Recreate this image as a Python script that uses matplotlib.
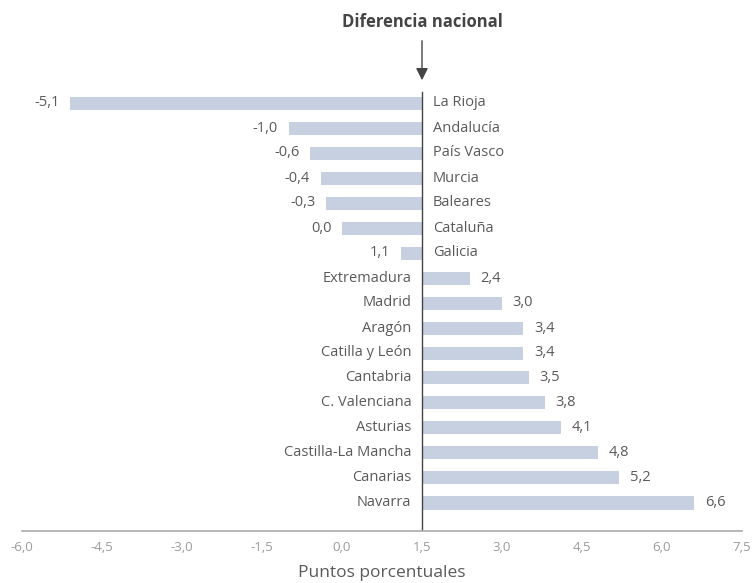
import matplotlib.pyplot as plt

regions = ["La Rioja", "Andalucía", "País Vasco", "Murcia", "Baleares", "Cataluña", "Galicia",
           "Extremadura", "Madrid", "Aragón", "Catilla y León", "Cantabria", "C. Valenciana",
           "Asturias", "Castilla-La Mancha", "Canarias", "Navarra"]
values = [-5.1, -1.0, -0.6, -0.4, -0.3, 0.0, 1.1, 2.4, 3.0, 3.4, 3.4, 3.5, 3.8, 4.1, 4.8, 5.2, 6.6]
national = 1.5
xticks = [-6.0, -4.5, -3.0, -1.5, 0.0, 1.5, 3.0, 4.5, 6.0, 7.5]

plt.rcParams['font.family'] = ['Open Sans', 'DejaVu Sans']

fig = plt.figure(figsize=(7.56, 5.83), dpi=100)
ax = fig.add_axes([22 / 756, 1 - 531 / 583, 720 / 756, (531 - 88) / 583])

bar_color = "#c6d0e1"
text_color = "#5a5a5a"
ypos = list(range(len(regions)))
ax.barh(ypos, [v - national for v in values], left=national, height=0.52, color=bar_color)

def fmt(v):
    return f"{v:.1f}".replace(".", ",")

for y, name, v in zip(ypos, regions, values):
    if v < national:
        ax.text(national + 0.2, y, name, ha="left", va="center", fontsize=10.5, color=text_color)
        ax.text(v - 0.2, y, fmt(v), ha="right", va="center", fontsize=10.5, color=text_color)
    else:
        ax.text(national - 0.2, y, name, ha="right", va="center", fontsize=10.5, color=text_color)
        ax.text(v + 0.2, y, fmt(v), ha="left", va="center", fontsize=10.5, color=text_color)

ax.axvline(national, color="#444444", lw=1.0, ymin=0, ymax=0.99)
ax.set_xlim(-6, 7.5)
ax.set_ylim(17.12, -0.6)
ax.set_xticks(xticks)
ax.set_xticklabels([fmt(t) for t in xticks], fontsize=9.5, color="#9a9a9a")
ax.tick_params(axis="x", length=0, pad=7)
ax.set_yticks([])
for s in ["top", "right", "left"]:
    ax.spines[s].set_visible(False)
ax.spines["bottom"].set_color("#aaaaaa")
ax.spines["bottom"].set_linewidth(1.2)

ax.set_xlabel("Puntos porcentuales", fontsize=12.5, color=text_color, labelpad=8)

ax.annotate("", xy=(national, -0.8), xytext=(national, -2.6), xycoords="data",
            arrowprops=dict(arrowstyle="-|>", color="#444444", lw=1.0, mutation_scale=18),
            annotation_clip=False)
ax.text(national, -3.25, "Diferencia nacional", ha="center", va="center", fontsize=12,
        fontweight="bold", color="#444444", clip_on=False)

plt.savefig("out.png", dpi=100)
